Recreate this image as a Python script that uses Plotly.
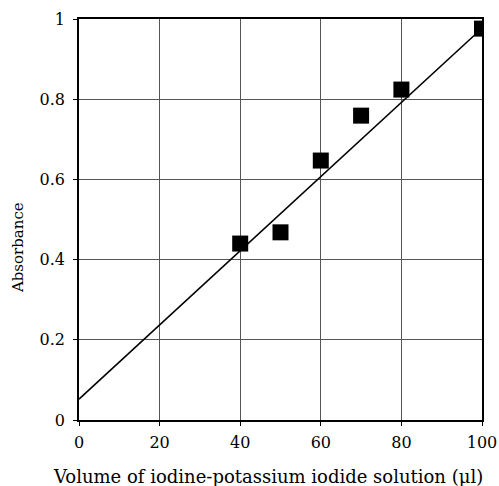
import plotly.graph_objects as go

# Data
volume = [40, 50, 60, 70, 80, 100]
absorbance = [0.44, 0.468, 0.647, 0.759, 0.824, 0.976]
fit_x = [0, 100]
fit_y = [0.052, 0.977]

x_ticks = [0, 20, 40, 60, 80, 100]
y_ticks = [0, 0.2, 0.4, 0.6, 0.8, 1]
y_tick_text = ["0", "0.2", "0.4", "0.6", "0.8", "1"]

FONT = "DejaVu Serif"

fig = go.Figure()
fig.add_trace(go.Scatter(x=fit_x, y=fit_y, mode="lines",
                         line=dict(color="black", width=1.6), showlegend=False))
fig.add_trace(go.Scatter(x=volume, y=absorbance, mode="markers",
                         marker=dict(symbol="square", size=16, color="black"),
                         showlegend=False))

fig.update_xaxes(range=[0, 100], tickvals=x_ticks, showgrid=True, automargin=False,
                 gridcolor="#555555", gridwidth=1, showline=True, linecolor="black",
                 linewidth=1.5, mirror=True, ticks="outside", ticklen=4,
                 tickcolor="black", zeroline=False, ticklabelstandoff=3,
                 tickfont=dict(family=FONT, size=16, color="black"))
fig.update_yaxes(range=[0, 1], tickvals=y_ticks, ticktext=y_tick_text, showgrid=True,
                 automargin=False,
                 gridcolor="#555555", gridwidth=1, showline=True, linecolor="black",
                 linewidth=1.5, mirror=True, ticks="outside", ticklen=4,
                 tickcolor="black", zeroline=False, ticklabelstandoff=5,
                 tickfont=dict(family=FONT, size=16, color="black"))

fig.add_annotation(text="Absorbance", textangle=-90,
                   xref="paper", yref="paper", x=-0.1526, y=0.43,
                   xanchor="center", yanchor="middle", showarrow=False,
                   font=dict(family=FONT, size=15, color="black"))
fig.add_annotation(text="Volume of iodine-potassium iodide solution (\u03bcl)",
                   xref="paper", yref="paper", x=0.469, y=-0.142,
                   xanchor="center", yanchor="middle", showarrow=False,
                   font=dict(family=FONT, size=18, color="black"))

fig.update_layout(width=499, height=486, plot_bgcolor="white", paper_bgcolor="white",
                  margin=dict(l=79, r=17, t=19, b=66))

fig.write_html("out.html")
